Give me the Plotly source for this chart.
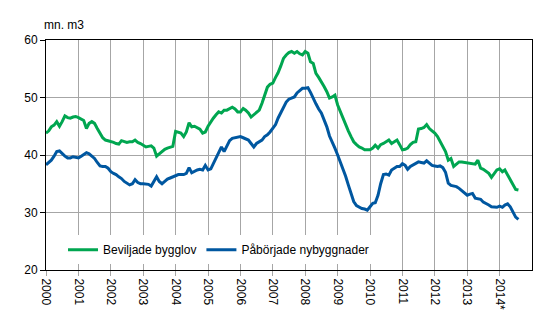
import pandas as pd
import plotly.graph_objects as go

start_month = "2000-01-01"

beviljade_bygglov = [
    43.8, 44.2, 44.9, 45.2, 45.8, 45.0, 45.8, 46.8, 46.5, 46.4, 46.6, 46.7,
    46.5, 46.3, 46.0, 44.6, 45.5, 45.8, 45.5, 44.6, 43.8, 43.0, 42.6, 42.5,
    42.3, 42.2, 42.0, 41.9, 42.5, 42.3, 42.2, 42.3, 42.3, 42.6, 42.2, 42.0,
    41.7, 41.4, 41.5, 41.6, 41.2, 39.8, 40.2, 40.6, 41.0, 41.2, 41.4, 41.5,
    44.1, 43.9, 43.8, 43.2, 44.0, 45.6, 44.9, 45.0, 44.8, 44.5, 43.8, 44.0,
    45.0, 45.8, 46.4, 47.0, 47.5, 47.3, 47.8, 47.8, 48.0, 48.3, 48.0, 47.5,
    47.5, 48.1, 47.8, 47.3, 46.6, 47.0, 47.3, 47.8, 49.0, 50.5, 51.8, 52.3,
    52.5, 53.5, 54.3, 55.5, 56.8, 57.4, 57.8, 58.0, 57.7, 58.0, 57.6, 57.4,
    58.0, 57.7, 56.2, 55.9, 54.2, 53.5, 52.8, 51.9, 51.0, 49.9, 50.1, 50.4,
    48.7, 47.5, 46.7, 45.5, 44.2, 43.2, 42.3, 41.8, 41.4, 41.2, 40.9, 40.9,
    40.9, 41.2, 41.7, 41.2, 41.8, 42.0, 42.3, 42.6, 42.0, 42.3, 42.6, 41.8,
    40.9, 41.0, 41.2, 41.8, 42.2, 42.3, 44.5, 44.6, 44.8, 45.3, 44.6, 44.2,
    43.8, 43.2, 42.3, 41.5, 40.6, 39.1, 39.4, 38.0, 38.5, 38.8, 38.8, 38.7,
    38.6, 38.6, 38.5, 38.4, 39.1, 37.7, 37.5, 37.1, 36.8, 36.1, 36.8, 37.4,
    37.6, 37.1, 37.4, 36.5, 35.8, 35.0, 34.0, 33.9,
]

paborjade_nybyggnader = [
    38.3, 38.7, 39.1, 39.8, 40.6, 40.7, 40.2, 39.8, 39.5, 39.5, 39.7, 39.6,
    39.5, 39.8, 40.1, 40.4, 40.2, 39.8, 39.4, 38.7, 38.1, 38.0, 38.0, 37.7,
    37.1, 36.8, 36.6, 36.2, 35.9, 35.4, 35.1, 34.8, 35.0, 35.7, 35.2, 35.0,
    35.0, 35.0, 34.9, 34.6, 35.5, 36.2, 35.4, 35.0, 35.4, 35.8, 36.0, 36.2,
    36.4, 36.6, 36.6, 36.6, 36.8, 37.8, 36.9, 37.2, 37.4, 37.5, 37.4, 38.2,
    37.4, 37.6, 38.5, 39.7, 40.5, 41.4, 40.6, 41.5, 42.5, 42.9, 43.0, 43.2,
    43.2, 43.0, 42.8, 42.6, 42.0, 41.4, 42.0, 42.3, 42.6, 43.2, 43.5, 44.0,
    44.6, 45.3, 46.4, 47.3, 48.4, 49.2, 49.7, 49.9, 50.1, 50.8, 51.3, 51.6,
    51.6, 51.7, 50.9, 49.8, 48.9, 48.0, 47.3, 46.1, 44.9, 43.3, 42.3, 41.2,
    40.0, 38.8, 37.8, 36.3, 34.8, 33.5, 31.9, 31.2, 30.9, 30.7, 30.6, 30.4,
    31.0, 31.6, 31.7, 33.0, 35.0, 36.6, 36.7, 36.5, 37.4, 37.7, 38.0, 38.0,
    38.5, 38.2, 37.5, 38.0, 38.3, 38.6, 38.8, 38.7, 38.6, 39.0, 38.6, 38.2,
    38.1, 38.0, 38.1, 37.8, 37.0, 35.1, 34.7, 34.6, 34.5, 34.2, 33.8, 33.5,
    33.0, 33.2, 33.3, 32.5, 32.4, 32.3, 31.8, 31.6, 31.3, 31.0, 30.9, 30.9,
    31.1, 30.9, 31.3, 31.5, 31.0, 30.0, 29.2, 28.8,
]

tick_years = list(range(2000, 2015))
tick_labels = [str(y) for y in range(2000, 2014)] + ["2014*"]
y_ticks = [20, 30, 40, 50, 60]
unit_label = "mn. m3"
names = ["Beviljade bygglov", "Påbörjade nybyggnader"]

months = pd.date_range(start_month, periods=len(beviljade_bygglov), freq="MS")

GREEN = "#00A650"
BLUE = "#0057A0"
GRID = "#A6A6A6"
FONT = "Liberation Sans, Arial, sans-serif"

fig = go.Figure()
fig.add_trace(go.Scatter(x=months, y=beviljade_bygglov, mode="lines", name=names[0],
                         line=dict(color=GREEN, width=3)))
fig.add_trace(go.Scatter(x=months, y=paborjade_nybyggnader, mode="lines", name=names[1],
                         line=dict(color=BLUE, width=3)))

# page body has an 8px default margin, so figure is 8px smaller than window
fig.update_layout(
    width=544, height=321,
    margin=dict(l=38, r=20, t=32, b=59),
    paper_bgcolor="white", plot_bgcolor="white",
    font=dict(family=FONT, size=12, color="black"),
    showlegend=True,
    legend=dict(orientation="h", x=0.035, y=0.025, xanchor="left", yanchor="bottom",
                bgcolor="white", font=dict(size=12),
                tracegroupgap=0, itemwidth=30),
    xaxis=dict(
        type="date",
        range=[f"{tick_years[0]}-01-01", f"{tick_years[-1] + 1}-01-01"],
        tickvals=[f"{y}-01-01" for y in tick_years],
        ticktext=tick_labels,
        tickangle=90,
        showgrid=True, gridcolor=GRID, gridwidth=1,
        showline=True, linecolor="black", linewidth=1, mirror=True,
        ticks="outside", ticklen=5, tickcolor=GRID,
        zeroline=False,
    ),
    yaxis=dict(
        range=[20, 60],
        tickvals=y_ticks,
        showgrid=True, gridcolor=GRID, gridwidth=1,
        showline=True, linecolor="black", linewidth=1, mirror=True,
        ticks="outside", ticklen=5, tickcolor="black",
        zeroline=False,
    ),
    annotations=[dict(text=unit_label, xref="paper", yref="paper", x=0, y=1.0,
                      xanchor="left", yanchor="bottom", xshift=-4, yshift=6,
                      showarrow=False, font=dict(size=12))],
)

fig.write_html("out.html")
